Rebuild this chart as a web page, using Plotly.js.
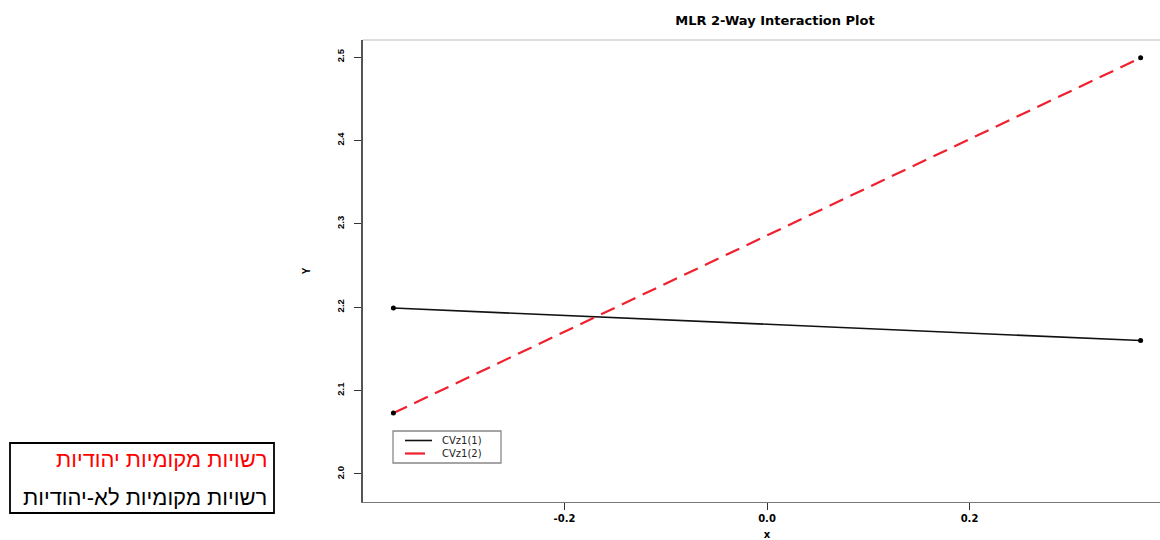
<!DOCTYPE html>
<html>
<head>
<meta charset="utf-8">
<script src="https://cdn.plot.ly/plotly-3.0.1.min.js"></script>
<style>
html,body{margin:0;padding:0;background:#fff;overflow:hidden;width:1160px;height:540px;}
#chart{width:1175px;height:540px;}
</style>
</head>
<body>
<div id="chart"></div>
<script>
// ---- data ----
const xLevels = [-0.369, 0.369];
const seriesNames = ["CVz1(1)", "CVz1(2)"];
const yCVz1_1 = [2.199, 2.160];
const yCVz1_2 = [2.073, 2.499];
const xTicks = [-0.2, 0.0, 0.2];
const xTickText = ["-0.2", "0.0", "0.2"];
const yTicks = [2.0, 2.1, 2.2, 2.3, 2.4, 2.5];
const yTickText = ["2.0", "2.1", "2.2", "2.3", "2.4", "2.5"];
const noteLines = ["רשויות מקומיות יהודיות", "רשויות מקומיות לא-יהודיות"];

// ---- layout geometry (pixels) ----
const W = 1175, H = 540;
const L = 363, R = 4, T = 40, B = 38;
const pw = W - L - R, ph = H - T - B;
const px2x = p => (p - L) / pw;
const py2y = p => 1 - (p - T) / ph;

const FONT = "Liberation Sans, Arial, Helvetica, sans-serif";
const WIDE = "DejaVu Sans, Verdana, sans-serif";
const RED = "#f0202e";
const DASH = "15px,8px";

const traces = [
  {x: xLevels, y: yCVz1_1, name: seriesNames[0], mode: "lines",
   line: {color: "#111", width: 1.6}},
  {x: xLevels, y: yCVz1_2, name: seriesNames[1], mode: "lines",
   line: {color: RED, width: 2.2, dash: DASH}},
  {x: xLevels.concat(xLevels), y: yCVz1_1.concat(yCVz1_2), mode: "markers",
   marker: {color: "#000", size: 5}, showlegend: false, hoverinfo: "skip"}
];

// compact R-style legend box (inside plot, bottom-left)
const legColors = ["#111", RED];
const legRowPx = [440.5, 453.5];
const legShapes = [
  {type: "rect", xref: "paper", yref: "paper",
   x0: px2x(393), x1: px2x(501), y0: py2y(431), y1: py2y(463),
   line: {color: "#888", width: 1.3}, fillcolor: "#fff", layer: "above"}
];
seriesNames.forEach((nm, i) => {
  const yy = py2y(legRowPx[i]);
  legShapes.push({type: "line", xref: "paper", yref: "paper",
    x0: px2x(405), x1: px2x(i === 0 ? 432 : 425), y0: yy, y1: yy,
    line: {color: legColors[i], width: i === 0 ? 1.6 : 2.2}, layer: "above"});
});
const legAnn = [{text: seriesNames.join("<br>"), xref: "paper", yref: "paper",
  x: px2x(441), y: py2y((legRowPx[0] + legRowPx[1]) / 2),
  xanchor: "left", yanchor: "middle", align: "left", showarrow: false, borderpad: 0,
  font: {size: 10, family: WIDE, color: "#222"}}];

const layout = {
  width: W, height: H,
  margin: {l: L, r: R, t: T, b: B},
  paper_bgcolor: "#fff", plot_bgcolor: "#fff",
  font: {family: FONT, color: "#000"},
  showlegend: false,
  title: {text: "<b>MLR 2-Way Interaction Plot</b>", font: {size: 13, family: WIDE, color: "#000"},
          xref: "paper", x: px2x(775), xanchor: "center",
          yref: "container", y: 1 - 20 / H, yanchor: "middle"},
  xaxis: {range: [-0.399, 0.399], tickvals: xTicks, ticktext: xTickText,
          ticks: "outside", ticklen: 7, tickcolor: "#333", tickwidth: 1,
          showgrid: false, zeroline: false, showline: true, linecolor: "#777", linewidth: 1.2,
          tickfont: {size: 10, family: WIDE, weight: "bold"},
          title: {text: "<b>x</b>", font: {size: 10, family: WIDE}}, automargin: false},
  yaxis: {range: [1.9664, 2.5204], tickvals: yTicks, ticktext: yTickText,
          ticks: "outside", ticklen: 7, tickcolor: "#333", tickwidth: 1, tickangle: -90,
          ticklabelstandoff: 6,
          showgrid: false, zeroline: false, showline: true, linecolor: "#555", linewidth: 2,
          tickfont: {size: 9.5, family: FONT, weight: "bold"},
          title: {text: "<b>Y</b>", font: {size: 10, family: FONT}, standoff: 23}, automargin: true},
  shapes: [
    {type: "line", xref: "paper", yref: "paper", x0: 0, x1: 1, y0: 1, y1: 1,
     line: {color: "#bbb", width: 1.2}},
    {type: "rect", xref: "paper", yref: "paper",
     x0: px2x(10), x1: px2x(274), y0: py2y(443), y1: py2y(513),
     line: {color: "#000", width: 1.8}, fillcolor: "rgba(0,0,0,0)"}
  ].concat(legShapes),
  annotations: [
    {text: noteLines[0], xref: "paper", yref: "paper", x: px2x(269), y: py2y(459),
     xanchor: "right", yanchor: "middle", showarrow: false,
     font: {size: 22, family: FONT, color: "#ff0000"}},
    {text: noteLines[1], xref: "paper", yref: "paper", x: px2x(269), y: py2y(497),
     xanchor: "right", yanchor: "middle", showarrow: false,
     font: {size: 22, family: FONT, color: "#000"}}
  ].concat(legAnn)
};

Plotly.newPlot("chart", traces, layout, {displayModeBar: false, staticPlot: true});
</script>
</body>
</html>
